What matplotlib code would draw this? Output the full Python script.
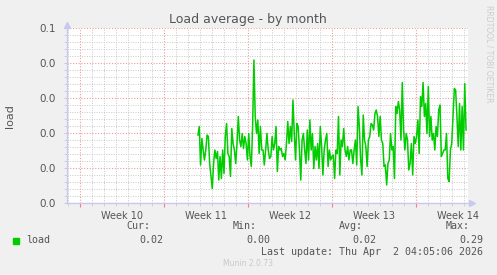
import numpy as np
import matplotlib.pyplot as plt
from matplotlib.patches import Rectangle

# load values (2h samples, roughly)
load = [
    0.136, 0.153, 0.076, 0.129, 0.106, 0.086, 0.106, 0.136, 0.133, 0.079,
    0.053, 0.029, 0.079, 0.106, 0.089, 0.103, 0.046, 0.093, 0.049, 0.106,
    0.059, 0.133, 0.159, 0.099, 0.093, 0.053, 0.149, 0.119, 0.106, 0.079,
    0.119, 0.173, 0.126, 0.113, 0.139, 0.109, 0.133, 0.119, 0.086, 0.139,
    0.093, 0.073, 0.153, 0.286, 0.173, 0.139, 0.166, 0.099, 0.153, 0.106,
    0.106, 0.076, 0.106,
    0.139, 0.106, 0.089, 0.093, 0.133, 0.106, 0.119, 0.153, 0.063, 0.113,
    0.106, 0.109, 0.093, 0.099, 0.086, 0.119, 0.163, 0.119, 0.153, 0.123,
    0.206, 0.139, 0.086, 0.159, 0.153, 0.106, 0.046, 0.126, 0.139, 0.106,
    0.079, 0.146, 0.086, 0.166, 0.106, 0.139, 0.069, 0.113, 0.086, 0.119,
    0.069, 0.153, 0.113, 0.056, 0.106, 0.126, 0.139, 0.073, 0.106, 0.086,
    0.093, 0.096,
    0.049, 0.106, 0.099, 0.173, 0.056, 0.126, 0.113, 0.149, 0.106, 0.093,
    0.113, 0.086, 0.106, 0.106, 0.079, 0.106, 0.126, 0.076, 0.193, 0.153,
    0.086, 0.056, 0.176, 0.126, 0.113, 0.073, 0.126, 0.133, 0.159, 0.156,
    0.146, 0.179, 0.186, 0.173, 0.133, 0.173, 0.126, 0.119, 0.073, 0.076,
    0.036, 0.079, 0.086, 0.139, 0.106, 0.113, 0.049, 0.193, 0.179, 0.203,
    0.186,
    0.126, 0.241, 0.146, 0.106, 0.139, 0.126, 0.066, 0.079, 0.119, 0.056,
    0.133, 0.119, 0.133, 0.166, 0.099, 0.213, 0.193, 0.241, 0.173, 0.199,
    0.139, 0.233, 0.133, 0.173, 0.126, 0.139, 0.106, 0.153, 0.133, 0.186,
    0.196, 0.093, 0.099, 0.106, 0.106, 0.139, 0.049, 0.043, 0.106, 0.119,
    0.173, 0.229, 0.226, 0.173, 0.113, 0.199, 0.106, 0.193, 0.106, 0.239,
    0.146,
]
t_start, t_end = 9.83, 32.17   # days after start of week 10
weeks = ["Week 10", "Week 11", "Week 12", "Week 13", "Week 14"]
ytick_labels = ["0.0", "0.0", "0.0", "0.0", "0.0", "0.1"]
stats = {"Cur:": "0.02", "Min:": "0.00", "Avg:": "0.02", "Max:": "0.29"}

W, H = 497, 275
def fx(x): return x / W
def fy(y): return 1 - y / H

bg = '#f0f0f0'
txt = '#555555'
axc = '#c8c8f0'
green = '#00cc00'

fig = plt.figure(figsize=(W / 100, H / 100), dpi=100, facecolor=bg)
ax = fig.add_axes([fx(67), fy(203), (468 - 67) / W, 175 / H])
ax.set_facecolor('white')

t = np.linspace(t_start, t_end, len(load))
ax.plot(t, load, color=green, lw=1.1, zorder=3)

ax.set_xlim(-13 / 12, 388 / 12)
ax.set_ylim(0, 0.35)

ax.set_xticks(np.arange(0, 29, 7))
ax.set_xticks(np.arange(-1, 33, 1), minor=True)
ax.set_xticklabels([])
ax.set_yticks(np.arange(6) * 0.07)
ax.set_yticks(np.arange(26) * 0.014, minor=True)
ax.set_yticklabels(ytick_labels, fontsize=7.5, color=txt)

ax.grid(which='minor', color='#c8c8c8', linestyle=(0, (1, 1.5)), lw=0.7)
ax.grid(which='major', color='#eb9c9c', linestyle=(0, (1, 1.5)), lw=0.8)
ax.set_axisbelow(True)

ax.tick_params(axis='x', which='major', length=3, color='#f08080', direction='out')
ax.tick_params(axis='x', which='minor', length=2, color='#cccccc', direction='out')
ax.tick_params(axis='y', which='both', length=2, color='#cccccc', pad=6)

for s in ['top', 'right']:
    ax.spines[s].set_visible(False)
for s in ['left', 'bottom']:
    ax.spines[s].set_color(axc)
    ax.spines[s].set_linewidth(1)

# axis arrows
ax.plot([0], [1.02], marker='^', color=axc, ms=5, transform=ax.transAxes, clip_on=False)
ax.plot([1.01], [0], marker='>', color=axc, ms=5, transform=ax.transAxes, clip_on=False)

for i, wk in enumerate(weeks):
    ax.text(3.5 + 7 * i, -0.045, wk, transform=ax.get_xaxis_transform(),
            ha='center', va='top', fontsize=7, color=txt)

fig.text(fx(248), fy(19), "Load average - by month", ha='center', va='center',
         fontsize=9, color=txt)
fig.text(fx(10), fy(116), "load", rotation=90, ha='center', va='center',
         fontsize=8, color=txt)
fig.text(fx(489), fy(5), "RRDTOOL / TOBI OETIKER", rotation=270, ha='center',
         va='top', fontsize=5.5, color='#cccccc')

mono = 'DejaVu Sans Mono'
fig.patches.append(Rectangle((fx(13), fy(244)), 6 / W, 6 / H, color=green,
                             transform=fig.transFigure, figure=fig))
fig.text(fx(26), fy(240), "load", family=mono, fontsize=7.2, color=txt, va='center')
head_x = [150, 257, 363, 470]
for (k, v), hx in zip(stats.items(), head_x):
    fig.text(fx(hx), fy(226), k, family=mono, fontsize=7.2, color=txt,
             ha='right', va='center')
    fig.text(fx(hx + 13), fy(240), v, family=mono, fontsize=7.2, color=txt,
             ha='right', va='center')
fig.text(fx(483), fy(252), "Last update: Thu Apr  2 04:05:06 2026", family=mono,
         fontsize=7.2, color=txt, ha='right', va='center')
fig.text(fx(248), fy(264), "Munin 2.0.73", ha='center', va='center',
         fontsize=5.5, color='#c8c8c8')

fig.savefig('out.png', dpi=100, facecolor=bg)
